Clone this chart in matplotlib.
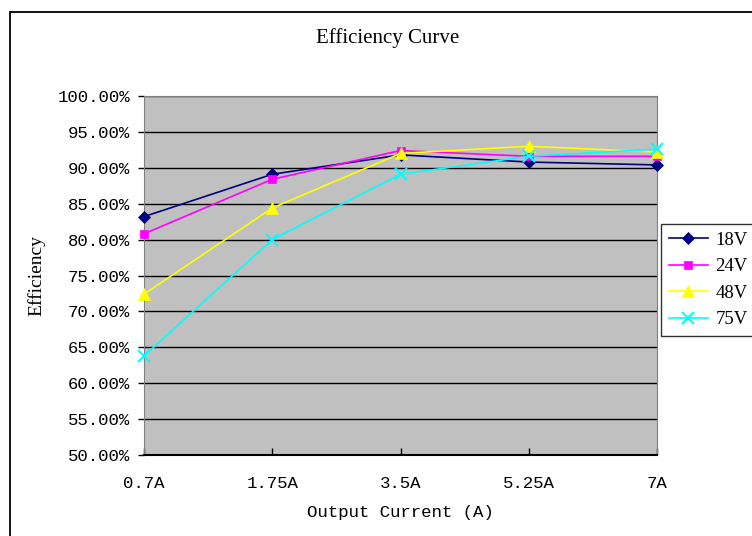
import matplotlib
matplotlib.use("Agg")
import matplotlib.pyplot as plt
from matplotlib.patches import Rectangle
from matplotlib.ticker import FuncFormatter

currents = ["0.7A", "1.75A", "3.5A", "5.25A", "7A"]
eff_18v = [83.2, 89.1, 91.8, 90.8, 90.4]
eff_24v = [80.8, 88.4, 92.4, 91.6, 91.6]
eff_48v = [72.4, 84.4, 92.0, 93.0, 92.2]
eff_75v = [63.8, 80.0, 89.1, 91.6, 92.6]

series = [
    ("18V", eff_18v, "#000080", "D", 6),
    ("24V", eff_24v, "#FF00FF", "s", 6),
    ("48V", eff_48v, "#FFFF00", "^", 8),
    ("75V", eff_75v, "#00FFFF", "x", 8),
]

W, H = 752, 536
fig = plt.figure(figsize=(W / 100, H / 100), dpi=100)
ax = fig.add_axes([144 / W, 1 - 455 / H, (657 - 144) / W, (455 - 96) / H])
ax.set_facecolor("#C0C0C0")

# outer chart frame (runs off the right/bottom edges)
fig.patches.append(Rectangle((10 / W, -0.1), 1.2, 1.1 - 12 / H,
                             transform=fig.transFigure, fill=False,
                             edgecolor="black", linewidth=1.3))

x = range(len(currents))
for name, vals, col, mk, ms in series:
    ax.plot(x, vals, color=col, marker=mk, markersize=ms, linewidth=1.2,
            markeredgewidth=1.5 if mk == "x" else 0.5, markeredgecolor=col,
            label=name, clip_on=False, zorder=3)

ax.set_xlim(0, 4)
ax.set_ylim(50, 100)
ax.set_yticks(range(50, 101, 5))
ax.yaxis.set_major_formatter(FuncFormatter(lambda v, p: f"{v:.2f}%"))
ax.set_xticks(list(x))
ax.set_xticklabels(currents)
ax.grid(axis="y", color="black", linewidth=1)
ax.set_axisbelow(True)

mono = "Liberation Mono"
serif = "Liberation Serif"
for lab in ax.get_yticklabels() + ax.get_xticklabels():
    lab.set_family(mono)
    lab.set_fontsize(12.5)
ax.tick_params(axis="y", direction="out", length=4, width=1, pad=6)
ax.tick_params(axis="x", direction="in", length=5, width=1, pad=15)

for side in ("top", "right", "left"):
    ax.spines[side].set_color("#808080")
ax.spines["bottom"].set_color("black")
ax.spines["bottom"].set_linewidth(1.5)

ax.set_xlabel("Output Current (A)", family=mono, fontsize=12.5, labelpad=10)
ax.set_ylabel("Efficiency", family=serif, fontsize=14)
ax.yaxis.set_label_coords(-0.192, 0.5)
fig.text(388 / W, 1 - 38 / H, "Efficiency Curve", family=serif,
         fontsize=15, ha="center", va="center")

leg = fig.legend(loc="upper left", bbox_to_anchor=(661 / W, 1 - 224 / H),
                 prop={"family": serif, "size": 13.5}, frameon=True,
                 fancybox=False, edgecolor="black", borderpad=0.4,
                 labelspacing=0.5, handlelength=2.1, handletextpad=0.4,
                 borderaxespad=0)
leg.get_frame().set_linewidth(1)

fig.savefig("out.png", dpi=100)
